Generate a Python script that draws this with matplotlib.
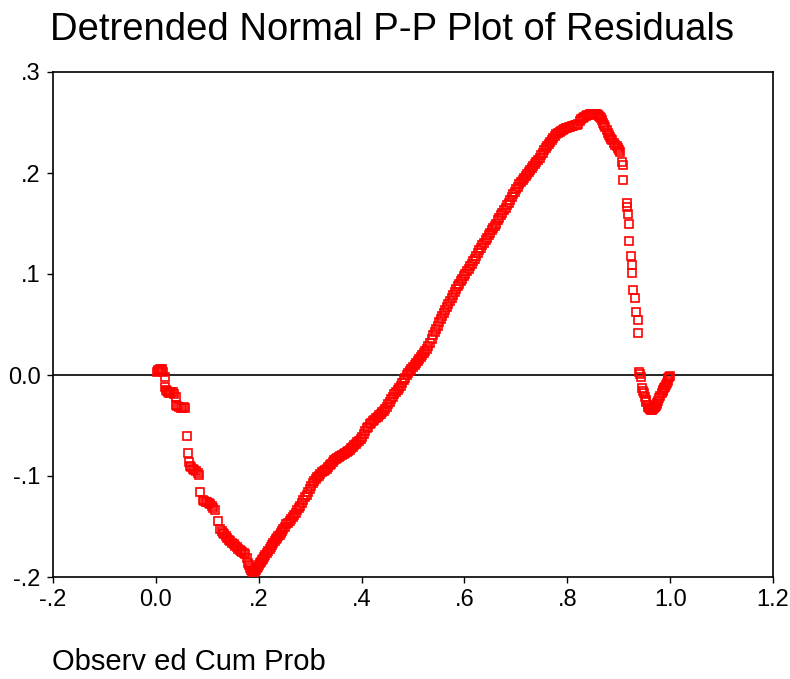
import matplotlib
matplotlib.use("Agg")
import matplotlib.pyplot as plt

# Observed cumulative probability (x) and deviation from normal (y)
left_x = [0.002, 0.004, 0.006, 0.008, 0.010, 0.012, 0.014, 0.018, 0.018, 0.019, 0.021, 0.023,
          0.025, 0.027, 0.030, 0.033, 0.036, 0.039, 0.039, 0.042, 0.045, 0.048, 0.051,
          0.054, 0.056, 0.060, 0.062, 0.064, 0.066, 0.069, 0.072, 0.075, 0.078, 0.081,
          0.084, 0.086, 0.091, 0.094, 0.097, 0.100, 0.103, 0.106, 0.109, 0.112, 0.115,
          0.121, 0.125, 0.128, 0.130, 0.133, 0.136, 0.139, 0.142, 0.145, 0.148, 0.151,
          0.154, 0.157, 0.160, 0.163, 0.165, 0.168, 0.171, 0.174, 0.177, 0.179, 0.181,
          0.183, 0.185, 0.187]
left_y = [0.003, 0.005, 0.004, 0.006, 0.005, 0.006, 0.003, -0.002, -0.012, -0.015, -0.016, -0.017,
          -0.018, -0.018, -0.017, -0.017, -0.019, -0.022, -0.030, -0.031, -0.032, -0.033, -0.033,
          -0.032, -0.033, -0.060, -0.077, -0.086, -0.090, -0.091, -0.093, -0.094, -0.095, -0.097,
          -0.099, -0.116, -0.124, -0.125, -0.126, -0.126, -0.127, -0.128, -0.130, -0.132, -0.134,
          -0.145, -0.152, -0.154, -0.156, -0.157, -0.159, -0.161, -0.163, -0.164, -0.166, -0.167,
          -0.169, -0.170, -0.172, -0.173, -0.174, -0.175, -0.176, -0.177, -0.181, -0.186, -0.188,
          -0.191, -0.193, -0.194]

mid_x = [0.189, 0.191, 0.193, 0.195, 0.197, 0.199, 0.201, 0.203, 0.205, 0.207, 0.209, 0.211,
         0.213, 0.216, 0.218, 0.221, 0.223, 0.226, 0.228, 0.231, 0.233, 0.236, 0.238, 0.241,
         0.243, 0.246, 0.248, 0.251, 0.254, 0.257, 0.260, 0.263, 0.266, 0.269, 0.272, 0.275,
         0.278, 0.281, 0.284, 0.287, 0.290, 0.293, 0.296, 0.299, 0.302, 0.305, 0.308, 0.311,
         0.314, 0.317, 0.320, 0.323, 0.326, 0.329, 0.332, 0.335, 0.338, 0.341, 0.344, 0.347,
         0.350, 0.353, 0.356, 0.359, 0.362, 0.365, 0.368, 0.371, 0.374, 0.377, 0.380, 0.383,
         0.386, 0.389, 0.392, 0.395, 0.398, 0.401, 0.404, 0.407, 0.410, 0.413, 0.416, 0.419,
         0.422, 0.425, 0.428, 0.431, 0.434, 0.437, 0.440, 0.443, 0.446, 0.449, 0.452, 0.455,
         0.458, 0.461, 0.464, 0.467, 0.470, 0.473, 0.476, 0.479, 0.482, 0.485, 0.488, 0.491,
         0.494, 0.497, 0.500, 0.503, 0.506, 0.509, 0.512, 0.515, 0.518, 0.521, 0.524, 0.527,
         0.530, 0.533, 0.536, 0.539, 0.542, 0.545, 0.548, 0.551, 0.554, 0.557, 0.560, 0.563,
         0.566, 0.569, 0.572, 0.575, 0.578, 0.581, 0.584, 0.587, 0.590, 0.593, 0.596, 0.599,
         0.602, 0.605, 0.608, 0.611, 0.614, 0.617, 0.620, 0.623, 0.626, 0.629, 0.632, 0.635,
         0.638, 0.641, 0.644, 0.647, 0.650, 0.653, 0.656, 0.659, 0.662, 0.665, 0.668, 0.671,
         0.674, 0.677, 0.680, 0.683, 0.686, 0.689, 0.692, 0.695, 0.698, 0.701, 0.704, 0.707,
         0.710, 0.713, 0.716, 0.719, 0.722, 0.725, 0.728, 0.731, 0.734, 0.737, 0.740, 0.743,
         0.746, 0.749, 0.752, 0.755, 0.758, 0.761, 0.764, 0.767, 0.770, 0.773, 0.776, 0.779,
         0.782, 0.785, 0.788, 0.791, 0.794, 0.797, 0.800, 0.803, 0.806, 0.809, 0.812, 0.815,
         0.818, 0.821, 0.824, 0.827, 0.830, 0.833, 0.836, 0.839, 0.842, 0.845, 0.848, 0.851,
         0.854, 0.857, 0.860, 0.862, 0.864]
mid_y = [-0.195, -0.195, -0.194, -0.193, -0.191, -0.190, -0.188, -0.186, -0.185, -0.183, -0.182, -0.180,
         -0.178, -0.176, -0.174, -0.172, -0.170, -0.168, -0.166, -0.164, -0.162, -0.161, -0.159, -0.158,
         -0.156, -0.154, -0.152, -0.150, -0.148, -0.147, -0.145, -0.143, -0.141, -0.139, -0.137, -0.134,
         -0.132, -0.130, -0.127, -0.124, -0.121, -0.119, -0.116, -0.113, -0.110, -0.107, -0.105, -0.103,
         -0.101, -0.100, -0.098, -0.096, -0.095, -0.094, -0.093, -0.091, -0.089, -0.088, -0.086, -0.084,
         -0.083, -0.082, -0.081, -0.080, -0.079, -0.078, -0.077, -0.076, -0.075, -0.074, -0.072, -0.071,
         -0.069, -0.068, -0.066, -0.065, -0.063, -0.061, -0.058, -0.055, -0.052, -0.051, -0.049, -0.048,
         -0.046, -0.045, -0.043, -0.042, -0.040, -0.039, -0.037, -0.036, -0.034, -0.032, -0.029, -0.027,
         -0.024, -0.022, -0.019, -0.017, -0.015, -0.013, -0.011, -0.008, -0.005, -0.003, 0.000, 0.002,
         0.004, 0.006, 0.008, 0.010, 0.012, 0.014, 0.016, 0.018, 0.020, 0.022, 0.024, 0.026,
         0.029, 0.032, 0.036, 0.040, 0.043, 0.046, 0.049, 0.052, 0.055, 0.058, 0.061, 0.064,
         0.067, 0.070, 0.073, 0.076, 0.079, 0.082, 0.085, 0.088, 0.090, 0.093, 0.095, 0.098,
         0.100, 0.103, 0.105, 0.108, 0.110, 0.113, 0.115, 0.118, 0.121, 0.124, 0.126, 0.129,
         0.131, 0.134, 0.136, 0.139, 0.141, 0.144, 0.146, 0.148, 0.150, 0.153, 0.155, 0.158,
         0.160, 0.163, 0.165, 0.168, 0.170, 0.173, 0.176, 0.179, 0.181, 0.184, 0.186, 0.189,
         0.191, 0.193, 0.195, 0.197, 0.199, 0.201, 0.203, 0.205, 0.207, 0.209, 0.211, 0.213,
         0.215, 0.218, 0.220, 0.223, 0.225, 0.227, 0.229, 0.231, 0.233, 0.235, 0.237, 0.239,
         0.240, 0.241, 0.242, 0.243, 0.244, 0.245, 0.245, 0.246, 0.246, 0.247, 0.247, 0.248,
         0.248, 0.249, 0.251, 0.253, 0.254, 0.255, 0.256, 0.257, 0.257, 0.258, 0.258, 0.258,
         0.258, 0.258, 0.257, 0.256, 0.255]

right_x = [0.866, 0.868, 0.870, 0.872, 0.874, 0.877, 0.879, 0.881, 0.883, 0.885, 0.887, 0.890,
           0.893, 0.896, 0.899, 0.901, 0.903,
           0.907, 0.909, 0.909, 0.916, 0.916, 0.918, 0.920, 0.920, 0.924, 0.926, 0.926,
           0.928, 0.932, 0.934, 0.938, 0.938, 0.940, 0.942, 0.944, 0.946, 0.948, 0.949, 0.951,
           0.953, 0.954, 0.956, 0.957, 0.959, 0.961, 0.963, 0.965, 0.967, 0.969, 0.971, 0.972,
           0.974, 0.975, 0.977, 0.979, 0.981, 0.984, 0.986, 0.987, 0.989, 0.990, 0.992,
           0.993, 0.995, 0.996, 0.998, 1.000]
right_y = [0.254, 0.252, 0.250, 0.248, 0.246, 0.243, 0.240, 0.238, 0.236, 0.234, 0.233, 0.230,
           0.228, 0.227, 0.225, 0.223, 0.221,
           0.211, 0.208, 0.193, 0.170, 0.166, 0.159, 0.150, 0.133, 0.118, 0.109, 0.101,
           0.084, 0.076, 0.062, 0.054, 0.042, 0.003, 0.001, -0.002, -0.013, -0.016, -0.018, -0.022,
           -0.025, -0.027, -0.030, -0.032, -0.033, -0.034, -0.035, -0.035, -0.034, -0.033, -0.032, -0.031,
           -0.029, -0.028, -0.026, -0.023, -0.021, -0.018, -0.016, -0.015, -0.013, -0.012, -0.010,
           -0.008, -0.006, -0.003, -0.002, -0.001]

x_ticks = [-0.2, 0.0, 0.2, 0.4, 0.6, 0.8, 1.0, 1.2]
x_labels = ["-.2", "0.0", ".2", ".4", ".6", ".8", "1.0", "1.2"]
y_ticks = [-0.2, -0.1, 0.0, 0.1, 0.2, 0.3]
y_labels = ["-.2", "-.1", "0.0", ".1", ".2", ".3"]

plt.rcParams['font.family'] = ['Liberation Sans', 'DejaVu Sans']

fig = plt.figure(figsize=(7.9, 6.79), dpi=100)
ax = fig.add_axes([53/790, 1 - 577/679, 720/790, 505/679])

xs = left_x + mid_x + right_x
ys = left_y + mid_y + right_y
ax.plot(xs, ys, linestyle='none', marker='s', markersize=5.5, markerfacecolor='none',
        markeredgecolor='red', markeredgewidth=1.2, zorder=3)
ax.axhline(0, color='black', linewidth=1.2, zorder=2)

ax.set_xlim(-0.2, 1.2)
ax.set_ylim(-0.2, 0.3)
ax.set_xticks(x_ticks)
ax.set_xticklabels(x_labels)
ax.set_yticks(y_ticks)
ax.set_yticklabels(y_labels)
ax.tick_params(direction='out', length=4, width=1, labelsize=17, color='black')
ax.tick_params(axis='x', pad=5)
ax.tick_params(axis='y', pad=5)
for s in ax.spines.values():
    s.set_linewidth(1.2)
    s.set_color('black')

fig.text(50/790, 1 - 30/679, "Detrended Normal P-P Plot of Residuals", fontsize=27.5,
         ha='left', va='center')
fig.text(52/790, 1 - 662/679, "Observ ed Cum Prob", fontsize=21, ha='left', va='center')

fig.savefig("out.png", dpi=100)
